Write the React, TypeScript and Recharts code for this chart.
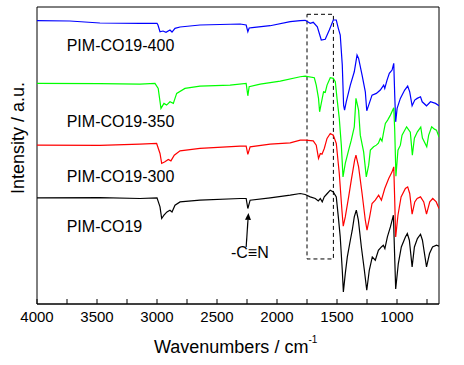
import React from "react";
import { LineChart, Line, XAxis, YAxis, ReferenceArea, ReferenceLine } from "recharts";

// [wavenumber (cm-1), intensity (a.u.)]
const pim400: [number, number][] = [
  [4000, 283], [3727, 282.7], [3476, 280.7], [3142, 280.4], [3000, 280.4], [2992, 278.7],
  [2975, 272], [2950, 272.7], [2925, 271.4], [2892, 273.7], [2875, 271.7], [2850, 275.4],
  [2808, 276.7], [2642, 278.7], [2307, 279.7], [2257, 278.7], [2243, 272], [2232, 275.7],
  [2207, 276], [2057, 278], [1890, 282], [1806, 283], [1765, 283.4], [1723, 280.4],
  [1698, 281.4], [1664, 277], [1631, 263.7], [1598, 264.4], [1564, 273.7], [1531, 283.7],
  [1506, 283.7], [1489, 275.4], [1473, 268.7], [1456, 238.7], [1445, 198.7], [1437, 193.7],
  [1423, 202], [1389, 218.7], [1356, 232], [1333, 248.7], [1320, 245.4], [1291, 228.7],
  [1264, 212], [1252, 193], [1236, 198.7], [1208, 208.7], [1172, 210.4], [1139, 213.7],
  [1111, 218.7], [1102, 215.4], [1083, 223.7], [1064, 230.4], [1041, 233.7], [1027, 240.4],
  [1019, 208.7], [1011, 182], [999, 195.4], [972, 205.4], [936, 213.7], [911, 217.7],
  [894, 212], [874, 198], [852, 203.7], [832, 205.4], [804, 207], [790, 202],
  [754, 198], [721, 202], [679, 200.4], [650, 198],
];

const pim350: [number, number][] = [
  [4000, 220.4], [3476, 220.2], [3142, 219.7], [3017, 220.4], [2990, 215.4], [2967, 195.4],
  [2942, 200.4], [2920, 198.7], [2892, 202], [2864, 200.4], [2836, 210.4], [2767, 215.4],
  [2642, 217.7], [2391, 218.7], [2257, 220.4], [2243, 208], [2232, 217], [2140, 219.7],
  [1973, 222.7], [1806, 227], [1765, 227.7], [1689, 226], [1673, 218.7], [1654, 205.4],
  [1645, 192], [1634, 198.7], [1623, 205.4], [1612, 212], [1598, 211.4], [1583, 218.7],
  [1556, 226], [1531, 225.4], [1514, 222], [1500, 205.4], [1481, 185.4], [1464, 158.7],
  [1450, 127], [1431, 140.4], [1403, 153.7], [1381, 163.7], [1356, 177], [1342, 205.4],
  [1320, 193.7], [1306, 168.7], [1278, 152], [1256, 127], [1236, 138.7], [1222, 153.7],
  [1195, 157], [1172, 158.7], [1155, 160.7], [1139, 165.4], [1125, 162.7], [1111, 172],
  [1097, 180.4], [1078, 183.7], [1055, 188.7], [1027, 196], [1019, 173.7], [1009, 127.7],
  [992, 153.7], [972, 158.7], [958, 168.7], [920, 177], [889, 171.7], [872, 148.7],
  [855, 165.7], [830, 172], [802, 176.7], [788, 165.7], [752, 157], [736, 168.7],
  [711, 177], [688, 174.7], [671, 173.7], [650, 166.7],
];

const pim300: [number, number][] = [
  [4000, 158.7], [3476, 158.4], [3142, 159.7], [3003, 160.4], [2975, 150.4], [2961, 140.4],
  [2934, 142], [2906, 144.4], [2884, 143], [2856, 148.7], [2808, 153], [2642, 155.4],
  [2307, 157.7], [2257, 157.7], [2243, 149.4], [2224, 157], [2057, 159.7], [1890, 161],
  [1806, 163.7], [1765, 163.7], [1698, 163], [1673, 158.7], [1654, 145.4], [1639, 150.4],
  [1625, 149.7], [1606, 155.4], [1583, 165.4], [1556, 170.4], [1531, 168.7], [1506, 160.4],
  [1481, 130.4], [1459, 93.7], [1448, 77.7], [1431, 87], [1403, 107], [1381, 123.7],
  [1353, 143.7], [1342, 148.7], [1320, 137], [1291, 110.4], [1264, 83.7], [1250, 73.7],
  [1228, 87], [1208, 100.4], [1181, 103.7], [1153, 108.7], [1130, 103.7], [1102, 115.4],
  [1069, 125.4], [1041, 132], [1027, 137], [1019, 103.7], [1011, 67], [992, 88.7],
  [966, 107], [930, 115.4], [911, 117], [894, 110.4], [874, 89.7], [852, 102],
  [832, 105.4], [804, 107], [777, 102], [754, 89.7], [727, 102], [702, 105.4],
  [673, 102], [650, 95.4],
];

const pim: [number, number][] = [
  [4000, 106], [3476, 106.2], [3142, 105.4], [3000, 106], [2975, 97], [2961, 85.4],
  [2942, 88.7], [2917, 92], [2892, 93.7], [2875, 92], [2850, 98.7], [2808, 102],
  [2642, 103.7], [2307, 105.4], [2257, 105.4], [2243, 95.4], [2224, 103.7], [2057, 106],
  [1890, 108.7], [1806, 110.4], [1765, 109.4], [1723, 107], [1681, 105.4], [1656, 103],
  [1639, 105.4], [1623, 102], [1606, 107], [1581, 110.4], [1556, 113.7], [1531, 112],
  [1506, 107], [1489, 87], [1473, 67], [1456, 33.7], [1447, 12], [1431, 30.4],
  [1414, 47], [1389, 63.7], [1373, 73.7], [1356, 87], [1339, 93.7], [1322, 83.7],
  [1297, 57], [1272, 33.7], [1252, 13.7], [1231, 33.7], [1206, 47], [1181, 43.7],
  [1155, 53.7], [1130, 57], [1114, 58.7], [1101, 55.4], [1080, 67], [1055, 77],
  [1030, 88.7], [1011, 15], [989, 40.4], [964, 57], [930, 67], [914, 70.4],
  [897, 63.7], [874, 37], [855, 57], [830, 65.4], [804, 69.7], [788, 63.7],
  [754, 37], [729, 50.4], [704, 57], [671, 58.7], [650, 57.7],
];

const xTicks = [4000, 3750, 3500, 3250, 3000, 2750, 2500, 2250, 2000, 1750, 1500, 1250, 1000, 750];

const series = [
  { name: "PIM-CO19-400", color: "#0000ff", points: pim400 },
  { name: "PIM-CO19-350", color: "#00ff00", points: pim350 },
  { name: "PIM-CO19-300", color: "#ff0000", points: pim300 },
  { name: "PIM-CO19", color: "#000000", points: pim },
];

const FONT = "'Liberation Sans', Arial, sans-serif";

const toRows = (pts: [number, number][]) => pts.map(([wn, v]) => ({ wn, v }));

function AxisTick(props: any) {
  const { x, y, payload } = props;
  const major = payload.value % 500 === 0;
  return (
    <g>
      <line x1={x} y1={y} x2={x} y2={y - 5} stroke="#000" />
      {major && (
        <text x={x} y={y + 18} textAnchor="middle" fontSize={15} fontFamily={FONT} fill="#000">
          {payload.value}
        </text>
      )}
    </g>
  );
}

function Arrow(props: any) {
  const { x1, y1, x2, y2 } = props;
  const ang = Math.atan2(y2 - y1, x2 - x1);
  const len = 7;
  const w = 3;
  const bx = x2 - len * Math.cos(ang);
  const by = y2 - len * Math.sin(ang);
  const px = -Math.sin(ang) * w;
  const py = Math.cos(ang) * w;
  return (
    <g>
      <line x1={x1} y1={y1} x2={bx} y2={by} stroke="#000" strokeWidth={1.2} />
      <polygon points={`${x2},${y2} ${bx + px},${by + py} ${bx - px},${by - py}`} fill="#000" />
    </g>
  );
}

export default function App() {
  return (
    <div style={{ position: "absolute", left: 0, top: 0, background: "#fff" }}>
      <LineChart width={464} height={365} margin={{ top: 7, right: 25, bottom: 21, left: 37 }}>
        <XAxis
          type="number"
          dataKey="wn"
          domain={[650, 4000]}
          reversed
          allowDataOverflow
          ticks={xTicks}
          interval={0}
          tick={<AxisTick />}
          tickLine={false}
          tickSize={0}
          tickMargin={0}
          height={40}
          axisLine={{ stroke: "#000" }}
        />
        <YAxis hide type="number" domain={[0, 296.7]} allowDataOverflow />
        <ReferenceArea x1={4000} x2={650} y1={0} y2={296.7} fill="none" stroke="#000" strokeWidth={1} />
        <ReferenceArea
          x1={1750}
          x2={1530}
          y1={45}
          y2={289.4}
          fill="none"
          stroke="#000"
          strokeDasharray="4 3"
        />
        {series.map((s) => (
          <Line
            key={s.name}
            data={toRows(s.points)}
            dataKey="v"
            type="linear"
            stroke={s.color}
            strokeWidth={1.2}
            dot={false}
            isAnimationActive={false}
          />
        ))}
        <ReferenceLine
          segment={[{ x: 2257, y: 57 }, { x: 2238, y: 91 }]}
          shape={<Arrow />}
        />
        <text x={66.7} y={50.7} fontSize={16} fontFamily={FONT} fill="#000">PIM-CO19-400</text>
        <text x={66.7} y={126.7} fontSize={16} fontFamily={FONT} fill="#000">PIM-CO19-350</text>
        <text x={66.7} y={181.7} fontSize={16} fontFamily={FONT} fill="#000">PIM-CO19-300</text>
        <text x={66.7} y={232} fontSize={16} fontFamily={FONT} fill="#000">PIM-CO19</text>
        <text x={268.7} y={258} textAnchor="end" fontSize={16} fontFamily={FONT} fill="#000">-C≡N</text>
        <text x={154} y={353} fontSize={18} fontFamily={FONT} fill="#000">
          Wavenumbers / cm<tspan dy={-10} fontSize={10}>-1</tspan>
        </text>
        <text
          x={24}
          y={138}
          transform="rotate(-90 24 138)"
          textAnchor="middle"
          fontSize={18}
          fontFamily={FONT}
          fill="#000"
        >
          Intensity / a.u.
        </text>
      </LineChart>
    </div>
  );
}
